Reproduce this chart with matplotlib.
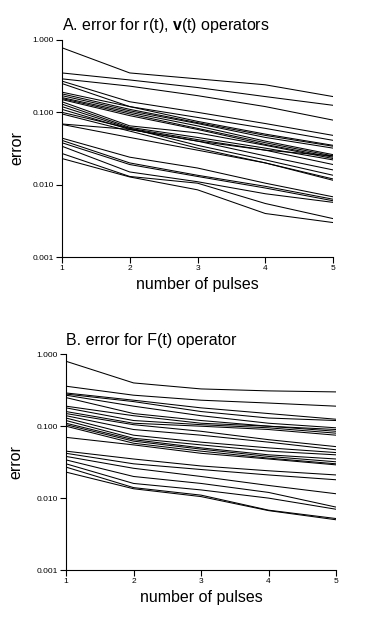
import matplotlib
matplotlib.use('Agg')
import matplotlib.pyplot as plt
import matplotlib.ticker as mticker

plt.rcParams['font.family'] = ['Liberation Sans', 'DejaVu Sans']
plt.rcParams['mathtext.fontset'] = 'custom'
plt.rcParams['mathtext.rm'] = 'Liberation Sans'
plt.rcParams['mathtext.bf'] = 'Liberation Sans:bold'

pulses = [1, 2, 3, 4, 5]

# panel A: error for r(t), v(t) operators, one row per run
err_rv = [
    [0.78, 0.35, 0.29, 0.24, 0.165],
    [0.35, 0.28, 0.22, 0.165, 0.125],
    [0.29, 0.23, 0.17, 0.12, 0.078],
    [0.27, 0.14, 0.10, 0.07, 0.048],
    [0.25, 0.12, 0.085, 0.06, 0.041],
    [0.19, 0.12, 0.075, 0.05, 0.035],
    [0.18, 0.11, 0.072, 0.048, 0.034],
    [0.17, 0.105, 0.07, 0.045, 0.032],
    [0.16, 0.10, 0.065, 0.04, 0.026],
    [0.155, 0.095, 0.06, 0.038, 0.025],
    [0.15, 0.09, 0.058, 0.036, 0.024],
    [0.14, 0.065, 0.052, 0.035, 0.023],
    [0.13, 0.062, 0.045, 0.032, 0.022],
    [0.12, 0.06, 0.042, 0.03, 0.019],
    [0.11, 0.058, 0.04, 0.025, 0.016],
    [0.10, 0.06, 0.035, 0.022, 0.0135],
    [0.095, 0.055, 0.032, 0.02, 0.012],
    [0.069, 0.058, 0.04, 0.03, 0.025],
    [0.068, 0.045, 0.03, 0.02, 0.0115],
    [0.044, 0.024, 0.017, 0.0105, 0.0068],
    [0.041, 0.020, 0.0135, 0.0095, 0.0063],
    [0.038, 0.019, 0.013, 0.009, 0.006],
    [0.034, 0.015, 0.011, 0.0075, 0.0057],
    [0.027, 0.013, 0.0105, 0.0055, 0.0034],
    [0.023, 0.0128, 0.0085, 0.004, 0.003],
]

# panel B: error for F(t) operator
err_f = [
    [0.80, 0.40, 0.33, 0.31, 0.30],
    [0.36, 0.27, 0.23, 0.21, 0.19],
    [0.29, 0.23, 0.18, 0.15, 0.125],
    [0.28, 0.22, 0.16, 0.13, 0.12],
    [0.27, 0.19, 0.14, 0.11, 0.095],
    [0.25, 0.15, 0.12, 0.10, 0.09],
    [0.19, 0.14, 0.11, 0.10, 0.085],
    [0.18, 0.12, 0.105, 0.095, 0.08],
    [0.16, 0.11, 0.10, 0.09, 0.075],
    [0.15, 0.105, 0.085, 0.065, 0.052],
    [0.14, 0.09, 0.075, 0.06, 0.047],
    [0.13, 0.075, 0.06, 0.05, 0.043],
    [0.12, 0.068, 0.055, 0.045, 0.04],
    [0.11, 0.065, 0.05, 0.04, 0.035],
    [0.105, 0.062, 0.048, 0.038, 0.032],
    [0.10, 0.058, 0.045, 0.036, 0.03],
    [0.07, 0.055, 0.042, 0.035, 0.029],
    [0.045, 0.035, 0.028, 0.024, 0.021],
    [0.042, 0.03, 0.025, 0.021, 0.018],
    [0.038, 0.026, 0.02, 0.015, 0.0115],
    [0.034, 0.02, 0.016, 0.012, 0.0075],
    [0.03, 0.016, 0.013, 0.01, 0.007],
    [0.027, 0.014, 0.011, 0.0068, 0.0052],
    [0.023, 0.0135, 0.0105, 0.0067, 0.005],
]

yticks = [0.001, 0.01, 0.1, 1.0]
ytick_labels = ['0.001', '0.010', '0.100', '1.000']

titles = [r'A. error for r(t), $\mathbf{v}$(t) operators',
          'B. error for F(t) operator']

fig = plt.figure(figsize=(3.73, 6.24), dpi=100)
ax_a = fig.add_axes([0.166, 0.588, 0.727, 0.348])
ax_b = fig.add_axes([0.177, 0.0865, 0.724, 0.3457])

for ax, data, title, ypad in zip([ax_a, ax_b], [err_rv, err_f], titles, [6, 9]):
    for row in data:
        ax.plot(pulses, row, color='black', linewidth=0.75)

    ax.set_yscale('log')
    ax.set_ylim(0.001, 1.0)
    ax.set_xlim(1, 5)
    ax.set_xticks(pulses)
    ax.set_yticks(yticks)
    ax.set_yticklabels(ytick_labels)
    ax.yaxis.set_minor_locator(mticker.NullLocator())

    ax.spines['top'].set_visible(False)
    ax.spines['right'].set_visible(False)
    ax.tick_params(labelsize=6, length=4, width=0.8, pad=2)

    ax.set_title(title, loc='left', fontsize=11.5, pad=7)
    ax.set_xlabel('number of pulses', fontsize=11.5, labelpad=3)
    ax.set_ylabel('error', fontsize=11.5, labelpad=ypad)

fig.savefig('out.png', dpi=100)
